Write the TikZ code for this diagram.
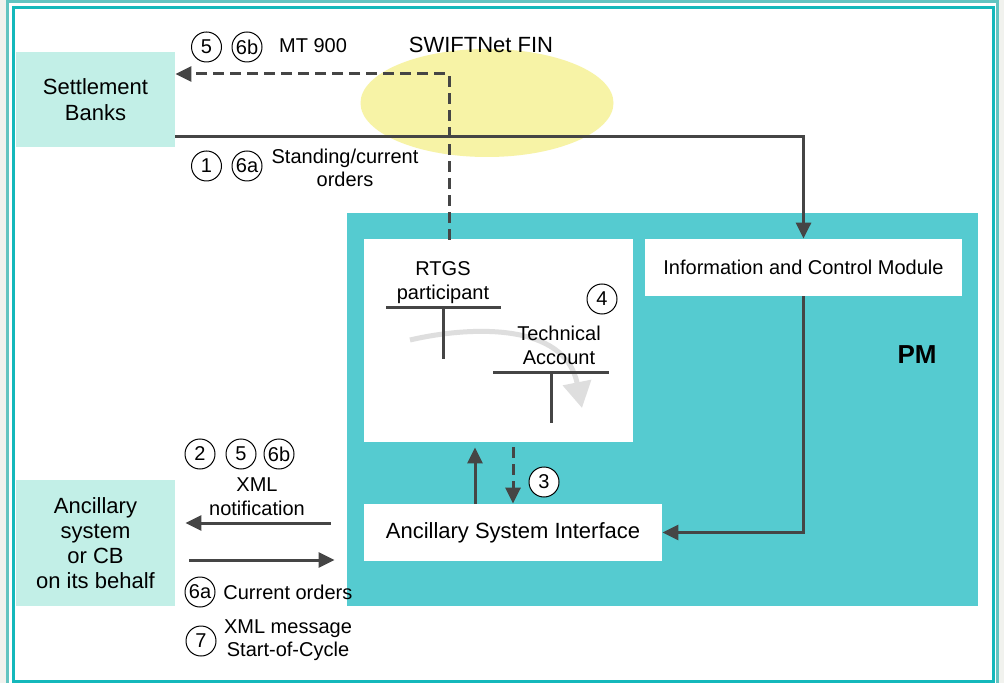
\documentclass[tikz,border=0pt]{standalone}
\usepackage{fontspec}
\setmainfont{Liberation Sans}
\usepackage{xcolor}
\usetikzlibrary{arrows.meta, positioning, shapes.geometric}

\definecolor{pmteal}{HTML}{55CBD0}
\definecolor{mint}{HTML}{C2EFE7}
\definecolor{swiftyellow}{HTML}{F7F3A6}
\definecolor{frameout}{HTML}{62C4C1}
\definecolor{framein}{HTML}{14B8BB}
\definecolor{linegrey}{HTML}{454545}
\definecolor{bggrey}{HTML}{F1F2EE}

\begin{document}
\begin{tikzpicture}[x=0.5pt, y=-0.5pt,
  extbox/.style={rectangle, fill=mint, align=center,
    font=\fontsize{11}{13}\selectfont, inner sep=0pt},
  modbox/.style={rectangle, fill=white, align=center,
    font=\fontsize{11}{13}\selectfont, inner sep=0pt},
  pmbox/.style={rectangle, fill=pmteal, inner sep=0pt},
  num/.style={circle, draw=black, line width=0.5pt, fill=white,
    minimum size=15pt, inner sep=0pt, font=\fontsize{10}{12}\selectfont},
  lbl/.style={align=center, font=\fontsize{10}{12}\selectfont, inner sep=0pt},
  arr/.style={-{Triangle[length=8pt, width=7.5pt]}, line width=1.5pt, draw=linegrey},
  darr/.style={arr, dash pattern=on 5.5pt off 3pt},
  tline/.style={line width=1.5pt, draw=linegrey},
  greyarr/.style={-{Triangle[length=13pt, width=14pt]}, line width=2.5pt, draw=black!13}
]
\useasboundingbox (0,0) rectangle (1004,683);

%% ==== Background and frame ====
\fill[bggrey] (0,0) rectangle (1004,683);
\fill[white] (7.5,2) rectangle (997,686);
\draw[frameout, line width=1.5pt] (7.5,2) rectangle (997,686);
\draw[framein, line width=1.5pt] (13.5,7.5) rectangle (993.5,681.5);

%% ==== SWIFTNet ====
\node[ellipse, fill=swiftyellow, minimum width=126.5pt, minimum height=54pt, inner sep=0pt] (swift) at (487,103) {};
\node[font=\fontsize{11}{13}\selectfont, inner sep=0pt] (lswift) at (481,45) {SWIFTNet FIN};

%% ==== Participants ====
\node[extbox, minimum width=79.5pt, minimum height=47.5pt] (bank) at (95.5,99.5) {Settlement\\Banks};
\node[extbox, minimum width=79.5pt, minimum height=63pt,
  font=\fontsize{11}{12.5}\selectfont] (anc) at (95.5,543) {Ancillary\\system\\or CB\\on its behalf};

%% ==== Payments Module ====
\node[pmbox, minimum width=315.5pt, minimum height=196.5pt] (pm) at (662.5,409.5) {};
\node[modbox, minimum width=134.5pt, minimum height=101.5pt] (rtgs) at (498.5,340.5) {};
\node[modbox, minimum width=158.5pt, minimum height=28.5pt,
  font=\fontsize{10}{12}\selectfont] (icm) at (803.5,267.5) {Information and Control Module};
\node[modbox, minimum width=149pt, minimum height=28.5pt] (asi) at (513,532.5) {Ancillary System Interface};
\node[font=\bfseries\fontsize{13}{15}\selectfont, inner sep=0pt] (lpm) at (917,355) {PM};

%% ==== T-accounts ====
\draw[greyarr] (410,340) .. controls (470,326) and (565,322) .. (582,408);
\draw[tline] (386,308) -- (501,308) (443,308) -- (443,359);
\draw[tline] (493,372) -- (609,372) (551,372) -- (551,423);
\node[lbl] (lrtgs) at (443,283) {RTGS\\participant};
\node[lbl] (ltech) at (559,345) {Technical\\Account};

%% ==== Connectors ====
\coordinate (mtout) at (449,240);
\coordinate (mt) at (449,74);
\draw[darr] (mtout) -- (mt) -- (bank.east |- mt);
\draw[arr] (bank.east |- 0,137) -| (icm.north);
\draw[arr] (icm.south) |- (asi.east);
\draw[arr, shorten >=2.5pt] (asi.north -| 475,0) -- (rtgs.south -| 475,0);
\draw[darr, shorten <=2.5pt] (rtgs.south -| asi.north) -- (asi.north);
\draw[arr, shorten <=8pt, shorten >=5pt] (pm.west |- 0,523) -- (anc.east |- 0,523);
\draw[arr, shorten <=7pt, shorten >=6pt] (anc.east |- 0,560) -- (pm.west |- 0,560);

%% ==== Step numbers ====
\foreach \n/\x/\y/\t in {c5a/206.5/47/5, c6ba/247/47/6b, c1/206.5/166/1, c6aa/247/166/6a,
    c2/200/454/2, c5b/241/454/5, c6bb/279/454/6b, c6ab/200/592/6a, c7/201/641/7,
    c3/544/482/3, c4/602/299/4}
  \node[num] (\n) at (\x,\y) {\t};

%% ==== Message labels ====
\node[lbl] (lmt) at (313,46) {MT 900};
\node[lbl, font=\fontsize{10}{11.5}\selectfont] (lstand) at (345,168) {Standing/current\\orders};
\node[lbl] (lxmlnot) at (257,497) {XML\\notification};
\node[lbl, anchor=west] (lcur) at (223,592) {Current orders};
\node[lbl, font=\fontsize{10}{11.5}\selectfont] (lsoc) at (288,640) {XML message\\Start-of-Cycle};

\end{tikzpicture}
\end{document}
